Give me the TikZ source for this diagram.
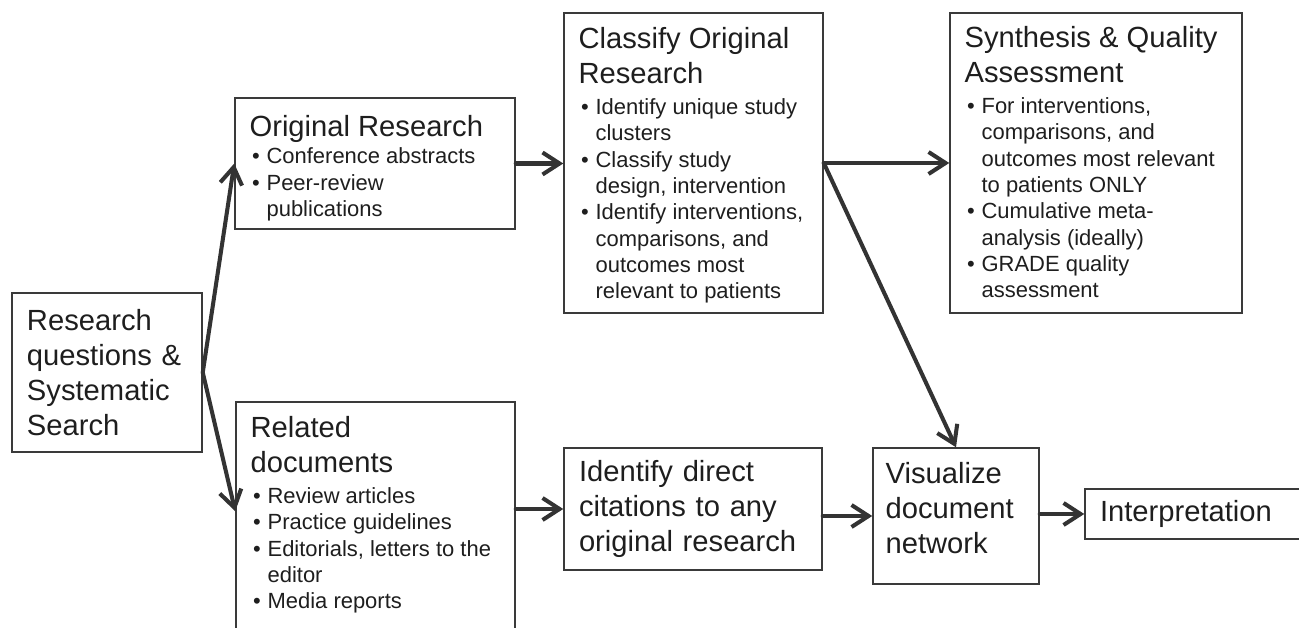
\documentclass[tikz,border=0pt]{standalone}
\usepackage{fontspec}
\setmainfont{Liberation Sans}
\usetikzlibrary{arrows.meta}

\definecolor{boxgray}{HTML}{3A3A3A}
\definecolor{arrowgray}{HTML}{333333}
\definecolor{txtgray}{HTML}{1E1E1E}

\newcommand{\bigtxt}{\fontsize{16.6}{20}\selectfont}
\newcommand{\bultxt}{\fontsize{12.5}{15}\selectfont}
\newcommand{\bitem}[1]{\par\noindent\makebox[0.34cm][l]{\hspace{0.05cm}\textbullet}#1}
\newcommand{\bmore}[1]{\par\noindent\hspace*{0.34cm}#1}

\tikzset{
  stage/.style={draw=boxgray, line width=0.85pt, inner xsep=0.3cm, inner ysep=0pt,
                align=left, text=txtgray, font=\bigtxt},
  stagetext/.style={anchor=north west, inner sep=0pt, align=flush left, text=txtgray, font=\bigtxt},
  link/.style={draw=arrowgray, line width=2.3pt, line cap=round, line join=round,
               -{Straight Barb[length=3.4mm,width=4.4mm]}}
}

\begin{document}
\begin{tikzpicture}
    \useasboundingbox (0, 0) rectangle (25.98, 12.56);

    % boxes
    \node (rq) [stage, text width=3.2cm, minimum height=3.18cm] at (2.14, 5.11)
        {Research\\questions \&\\Systematic\\Search};
    \node (orig) [stage, minimum width=5.60cm, minimum height=2.62cm] at (7.50, 9.29) {};
    \node (cls) [stage, minimum width=5.18cm, minimum height=6.00cm] at (13.87, 9.30) {};
    \node (syn) [stage, minimum width=5.84cm, minimum height=6.00cm] at (21.92, 9.30) {};
    \node (rel) [stage, minimum width=5.58cm, minimum height=4.96cm] at (7.51, 2.04) {};
    \node (idn) [stage, text width=4.56cm, minimum height=2.44cm] at (13.86, 2.38)
        {Identify direct\\citations to any\\original research};
    \node (vis) [stage, minimum width=3.32cm, minimum height=2.72cm] at (19.12, 2.24) {};
    \node (intp) [stage, text width=4.1cm, minimum height=1.00cm] at (24.05, 2.28)
        {Interpretation};

    % texts in the boxes
    \node (orig-txt) [stagetext, text width=5.1cm] at ([xshift=0.30cm, yshift=-0.36cm]orig.north west)
        {Original Research\par\vspace{0.5pt}\bultxt
         \bitem{Conference abstracts}
         \bitem{Peer-review}
         \bmore{publications}\par};
    \node (cls-txt) [stagetext, text width=4.75cm] at ([xshift=0.30cm, yshift=-0.29cm]cls.north west)
        {Classify Original\\Research\par\vspace{2.6pt}\bultxt
         \bitem{Identify unique study}
         \bmore{clusters}
         \bitem{Classify study}
         \bmore{design, intervention}
         \bitem{Identify interventions,}
         \bmore{comparisons, and}
         \bmore{outcomes most}
         \bmore{relevant to patients}\par};
    \node (syn-txt) [stagetext, text width=5.4cm] at ([xshift=0.30cm, yshift=-0.27cm]syn.north west)
        {Synthesis \& Quality\\Assessment\par\vspace{2.6pt}\bultxt
         \bitem{For interventions,}
         \bmore{comparisons, and}
         \bmore{outcomes most relevant}
         \bmore{to patients ONLY}
         \bitem{Cumulative meta-}
         \bmore{analysis (ideally)}
         \bitem{GRADE quality}
         \bmore{assessment}\par};
    \node (rel-txt) [stagetext, text width=5.1cm] at ([xshift=0.30cm, yshift=-0.29cm]rel.north west)
        {Related\\documents\par\vspace{2.6pt}\bultxt
         \bitem{Review articles}
         \bitem{Practice guidelines}
         \bitem{Editorials, letters to the}
         \bmore{editor}
         \bitem{Media reports}\par};
    \node (vis-txt) [stagetext, text width=2.9cm] at ([xshift=0.26cm, yshift=-0.29cm]vis.north west)
        {Visualize\\document\\network};

    % arrows
    \draw [link] (rq.east) -- (orig.west);
    \draw [link] (rq.east) -- ([yshift=-2.2cm]rel.north west);
    \draw [link] (orig.east) -- (orig.east -| cls.west);
    \draw [link] (cls.east) -- (cls.east -| syn.west);
    \draw [link] (cls.east) -- (vis.north);
    \draw [link] (idn.west -| rel.east) -- (idn.west);
    \draw [link] (vis.west -| idn.east) -- (vis.west);
    \draw [link] (intp.west -| vis.east) -- (intp.west);
\end{tikzpicture}
\end{document}
